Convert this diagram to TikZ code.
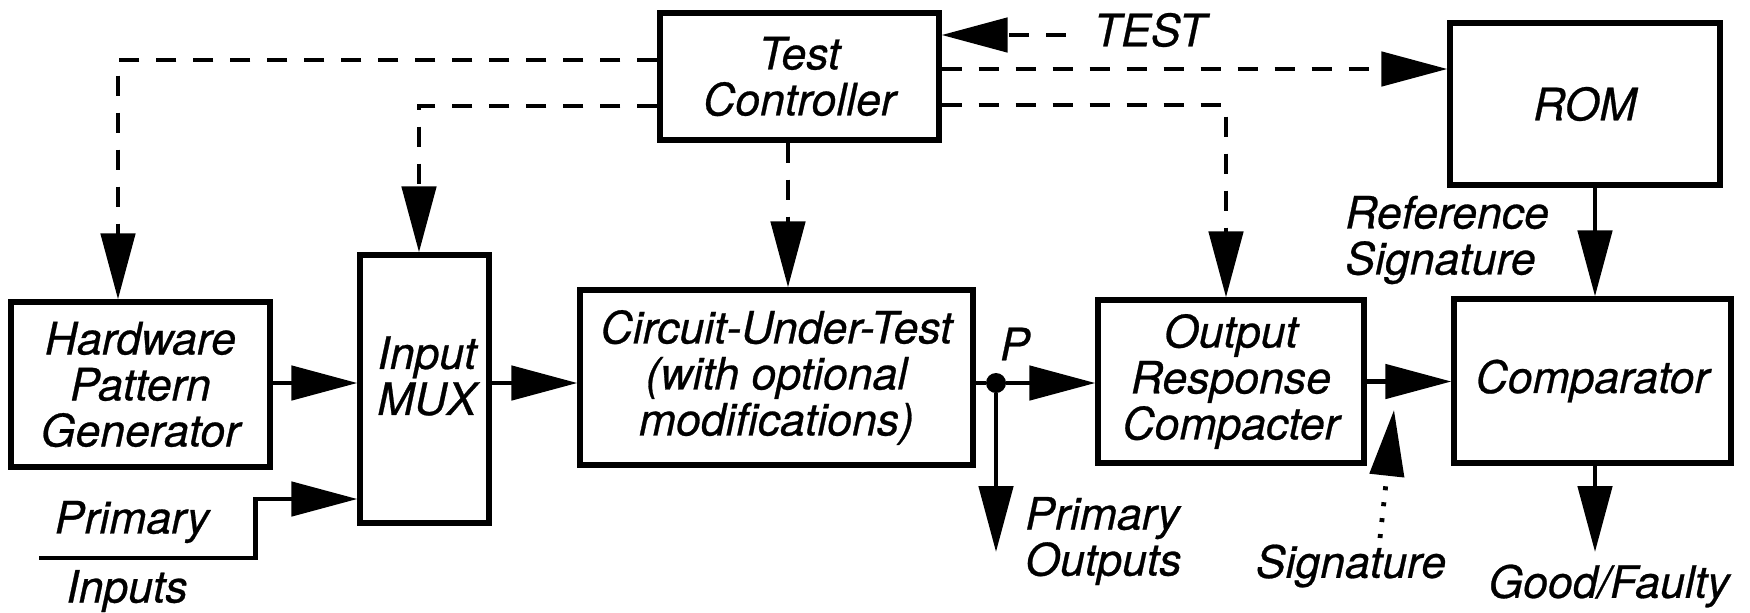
\documentclass[tikz,border=0pt]{standalone}
\usepackage{fontspec}
\setmainfont{TeX Gyre Heros}[ItalicFeatures={FakeBold=0.6}]
\usetikzlibrary{arrows.meta,calc}
\tikzset{
  txt/.style={inner sep=0pt, align=center, font=\fontsize{22.3}{23}\selectfont\itshape},
  blk/.style={txt, draw, line width=2.6pt},
  flow/.style={line width=2.4pt, -{Triangle[length=33pt,width=17pt]}},
  ctrl/.style={flow, dash pattern=on 10pt off 8.5pt},
  sigflow/.style={flow, dash pattern=on 2pt off 6pt},
}
\begin{document}
\begin{tikzpicture}[x=0.5pt,y=-0.5pt]
\useasboundingbox (0,0) rectangle (1750,612);

% blocks
\node[blk, minimum width=139.5pt, minimum height=63.5pt] (TC) at (799.5,76.5) {Test\\Controller};
\node[blk, minimum width=135pt, minimum height=81pt] (ROM) at (1585,104) {ROM};
\node[blk, minimum width=129.5pt, minimum height=82.5pt] (HPG) at (140.5,384.5) {Hardware\\Pattern\\Generator};
\node[blk, minimum width=64.5pt, minimum height=134pt] (MUX) at (424.5,389) {};
\node[txt] (MUXt) at (427,376) {Input\\MUX};
\node[blk, minimum width=196.5pt, minimum height=87.5pt] (CUT) at (776.5,377.5) {Circuit-Under-Test\\(with optional\\modifications)};
\node[blk, minimum width=133pt, minimum height=81.5pt] (ORC) at (1231,381.5) {Output\\Response\\Compacter};
\node[blk, minimum width=138.5pt, minimum height=82pt] (CMP) at (1592.5,381) {Comparator};

% labels
\node[txt] (test) at (1150,30) {TEST};
\node[txt, align=left, anchor=west] (refsig) at (1345,240) {Reference\\Signature};
\node[txt] (pi1) at (132,522) {Primary};
\node[txt] (pi2) at (127,591) {Inputs};
\node[txt, align=left, anchor=west] (pout) at (1025,541) {Primary\\Outputs};
\node[txt] (sig) at (1351,566) {Signature};
\node[txt] (gf) at (1609,586) {Good/Faulty};
\node[txt] (plab) at (1015,344) {P};

% branch point
\node[circle, fill, inner sep=0pt, minimum size=10pt] (P) at (996,383) {};

% control lines from the test controller
\draw[ctrl] ($(TC.west)+(0,-16.5)$) -| ($(HPG.north)+(-22.5,0)$);
\draw[ctrl] ($(TC.west)+(0,29.5)$) -| ($(MUX.north)+(-5.5,0)$);
\draw[ctrl] ($(TC.south)+(-11.5,0)$) -- ($(CUT.north)+(11.5,0)$);
\coordinate (tst) at ($(test.west)+(-28,5)$);
\draw[ctrl] (tst) -- (tst -| TC.east);
\draw[ctrl] ($(TC.east)+(0,-7.5)$) -- ($(ROM.west)+(0,-35)$);
\draw[ctrl] ($(TC.east)+(0,28.5)$) -| ($(ORC.north)+(-5,0)$);

% data path
\coordinate (h1) at ($(HPG.east)+(0,-1.5)$);
\draw[flow] (h1) -- (h1 -| MUX.west);
\coordinate (m1) at ($(MUX.east)+(0,-6)$);
\draw[flow] (m1) -- (m1 -| CUT.west);
\draw[line width=2.4pt] (P -| CUT.east) -- (P);
\draw[flow] (P) -- (P -| ORC.west);
\coordinate (poEnd) at (996,552);
\draw[flow] (P) -- (poEnd);
\draw[flow] (ORC.east) -- (ORC.east -| CMP.west);
\coordinate (rs) at ($(ROM.south)+(10,0)$);
\draw[flow] (rs) -- (rs |- CMP.north);
\coordinate (gfEnd) at (1595,552);
\draw[flow] (CMP.south -| gfEnd) -- (gfEnd);

% primary inputs
\coordinate (piStart) at (39,558);
\coordinate (pin) at ($(MUX.west)+(0,110)$);
\draw[flow] (piStart) -| ($(pin)+(-102,0)$) -- (pin);

% signature input
\coordinate (sigStart) at (1380,538);
\coordinate (sigTip) at (1394,410);
\draw[sigflow] (sigStart) -- (sigTip);
\end{tikzpicture}
\end{document}
